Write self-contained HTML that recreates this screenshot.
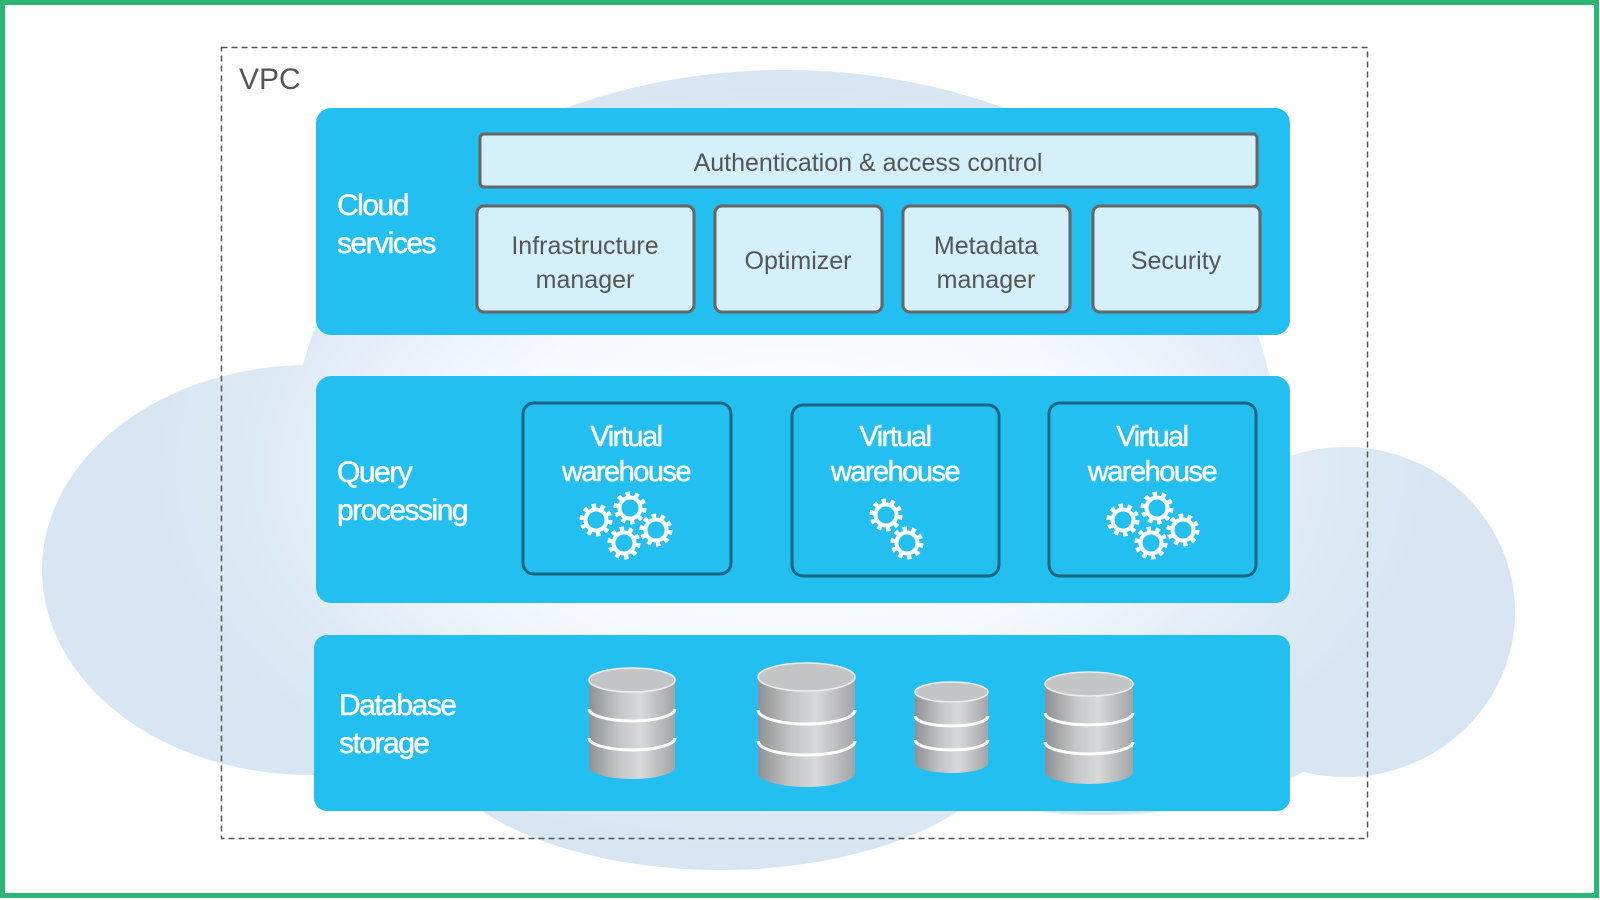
<!DOCTYPE html>
<html><head><meta charset="utf-8"><style>
html,body{margin:0;padding:0;background:#fff;}
svg{display:block;}
text{font-family:"Liberation Sans",sans-serif;}
</style></head><body>
<svg width="1600" height="900" viewBox="0 0 1600 900" xmlns="http://www.w3.org/2000/svg">
<defs>
<radialGradient id="cg" cx="790" cy="470" r="640" gradientUnits="userSpaceOnUse" gradientTransform="translate(790 470) scale(1 0.6) translate(-790 -470)">
<stop offset="0" stop-color="#ffffff"/>
<stop offset="0.5" stop-color="#f5f9fd"/>
<stop offset="0.85" stop-color="#dde9f5"/>
<stop offset="1" stop-color="#d8e6f3"/>
</radialGradient>
<linearGradient id="cyl" x1="0" x2="1" y1="0" y2="0">
<stop offset="0" stop-color="#8e9092"/>
<stop offset="0.35" stop-color="#c4c6c8"/>
<stop offset="0.6" stop-color="#d8d9db"/>
<stop offset="1" stop-color="#a2a4a6"/>
</linearGradient>
<g id="gear">
<circle r="10.5" fill="none" stroke="#fff" stroke-width="4"/>
<circle r="14" fill="none" stroke="#fff" stroke-width="5" stroke-dasharray="4.4 4.4"/>
</g>
</defs>
<rect x="0" y="0" width="1600" height="900" fill="#fff"/>
<g fill="url(#cg)">
<ellipse cx="785" cy="430" rx="490" ry="360"/>
<ellipse cx="310" cy="570" rx="268" ry="205"/>
<ellipse cx="1345" cy="612" rx="170" ry="165"/>
<ellipse cx="720" cy="720" rx="300" ry="150"/>
<ellipse cx="1100" cy="700" rx="260" ry="115"/>
<rect x="300" y="520" width="1050" height="250"/>
</g>
<rect x="221.5" y="47.5" width="1146" height="791" fill="none" stroke="#555" stroke-width="1.5" stroke-dasharray="6 4"/>
<text x="239" y="89" font-size="30" fill="#555">VPC</text>

<rect x="316" y="108" width="974" height="227" rx="15" fill="#22bff0"/>
<g fill="#fff" font-size="30" letter-spacing="-1.5" stroke="#fff" stroke-width="0.5">
<text x="337" y="215">Cloud</text>
<text x="337" y="253">services</text>
</g>
<g fill="#d4f0fb" stroke="#666" stroke-width="3">
<rect x="480" y="134" width="777" height="53" rx="4"/>
<rect x="477" y="206" width="217" height="106" rx="7"/>
<rect x="715" y="206" width="167" height="106" rx="7"/>
<rect x="903" y="206" width="167" height="106" rx="7"/>
<rect x="1093" y="206" width="167" height="106" rx="7"/>
</g>
<g fill="#555" font-size="25" text-anchor="middle">
<text x="868" y="171">Authentication &amp; access control</text>
<text x="585" y="254">Infrastructure</text>
<text x="585" y="288">manager</text>
<text x="798" y="269">Optimizer</text>
<text x="986" y="254">Metadata</text>
<text x="986" y="288">manager</text>
<text x="1176" y="269">Security</text>
</g>

<rect x="316" y="376" width="974" height="227" rx="15" fill="#22bff0"/>
<g fill="#fff" font-size="30" letter-spacing="-1.5" stroke="#fff" stroke-width="0.5">
<text x="337" y="482">Query</text>
<text x="337" y="520">processing</text>
</g>
<g fill="none" stroke="#1a6680" stroke-width="3">
<rect x="523" y="403" width="208" height="171" rx="11"/>
<rect x="792" y="405" width="207" height="171" rx="11"/>
<rect x="1049" y="403" width="207" height="173" rx="11"/>
</g>
<g fill="#fff" font-size="29" text-anchor="middle" letter-spacing="-1.5" stroke="#fff" stroke-width="0.5">
<text x="626" y="446">Virtual</text>
<text x="626" y="481">warehouse</text>
<text x="895" y="446">Virtual</text>
<text x="895" y="481">warehouse</text>
<text x="1152" y="446">Virtual</text>
<text x="1152" y="481">warehouse</text>
</g>
<use href="#gear" x="596" y="520"/>
<use href="#gear" x="630" y="508"/>
<use href="#gear" x="656" y="530"/>
<use href="#gear" x="624" y="543"/>
<use href="#gear" x="886" y="515"/>
<use href="#gear" x="907" y="543"/>
<use href="#gear" x="1123" y="520"/>
<use href="#gear" x="1157" y="508"/>
<use href="#gear" x="1183" y="530"/>
<use href="#gear" x="1151" y="543"/>

<rect x="314" y="635" width="976" height="176" rx="13" fill="#22bff0"/>
<g fill="#fff" font-size="30" letter-spacing="-1.5" stroke="#fff" stroke-width="0.5">
<text x="339" y="715">Database</text>
<text x="339" y="753">storage</text>
</g>
<g>
<path d="M589 680 L589 767 A43 12 0 0 0 675 767 L675 680 Z" fill="url(#cyl)"/>
<path d="M589 709 A43 12 0 0 0 675 709 M589 738 A43 12 0 0 0 675 738" fill="none" stroke="#fff" stroke-width="3"/>
<ellipse cx="632" cy="680" rx="43" ry="12" fill="#c3c5c7" stroke="#eee" stroke-width="1.5"/>
</g>
<g>
<path d="M758 677 L758 773 A48.5 14 0 0 0 855 773 L855 677 Z" fill="url(#cyl)"/>
<path d="M758 710 A48.5 14 0 0 0 855 710 M758 741 A48.5 14 0 0 0 855 741" fill="none" stroke="#fff" stroke-width="3"/>
<ellipse cx="806.5" cy="677" rx="48.5" ry="14" fill="#c3c5c7" stroke="#eee" stroke-width="1.5"/>
</g>
<g>
<path d="M915 692 L915 763 A36.5 10 0 0 0 988 763 L988 692 Z" fill="url(#cyl)"/>
<path d="M915 716 A36.5 10 0 0 0 988 716 M915 740 A36.5 10 0 0 0 988 740" fill="none" stroke="#fff" stroke-width="3"/>
<ellipse cx="951.5" cy="692" rx="36.5" ry="10" fill="#c3c5c7" stroke="#eee" stroke-width="1.5"/>
</g>
<g>
<path d="M1045 684 L1045 772 A44 12 0 0 0 1133 772 L1133 684 Z" fill="url(#cyl)"/>
<path d="M1045 713 A44 12 0 0 0 1133 713 M1045 742 A44 12 0 0 0 1133 742" fill="none" stroke="#fff" stroke-width="3"/>
<ellipse cx="1089" cy="684" rx="44" ry="12" fill="#c3c5c7" stroke="#eee" stroke-width="1.5"/>
</g>

<rect x="2.5" y="2.5" width="1594" height="893" fill="none" stroke="#2bb673" stroke-width="5"/>
</svg>
</body></html>
